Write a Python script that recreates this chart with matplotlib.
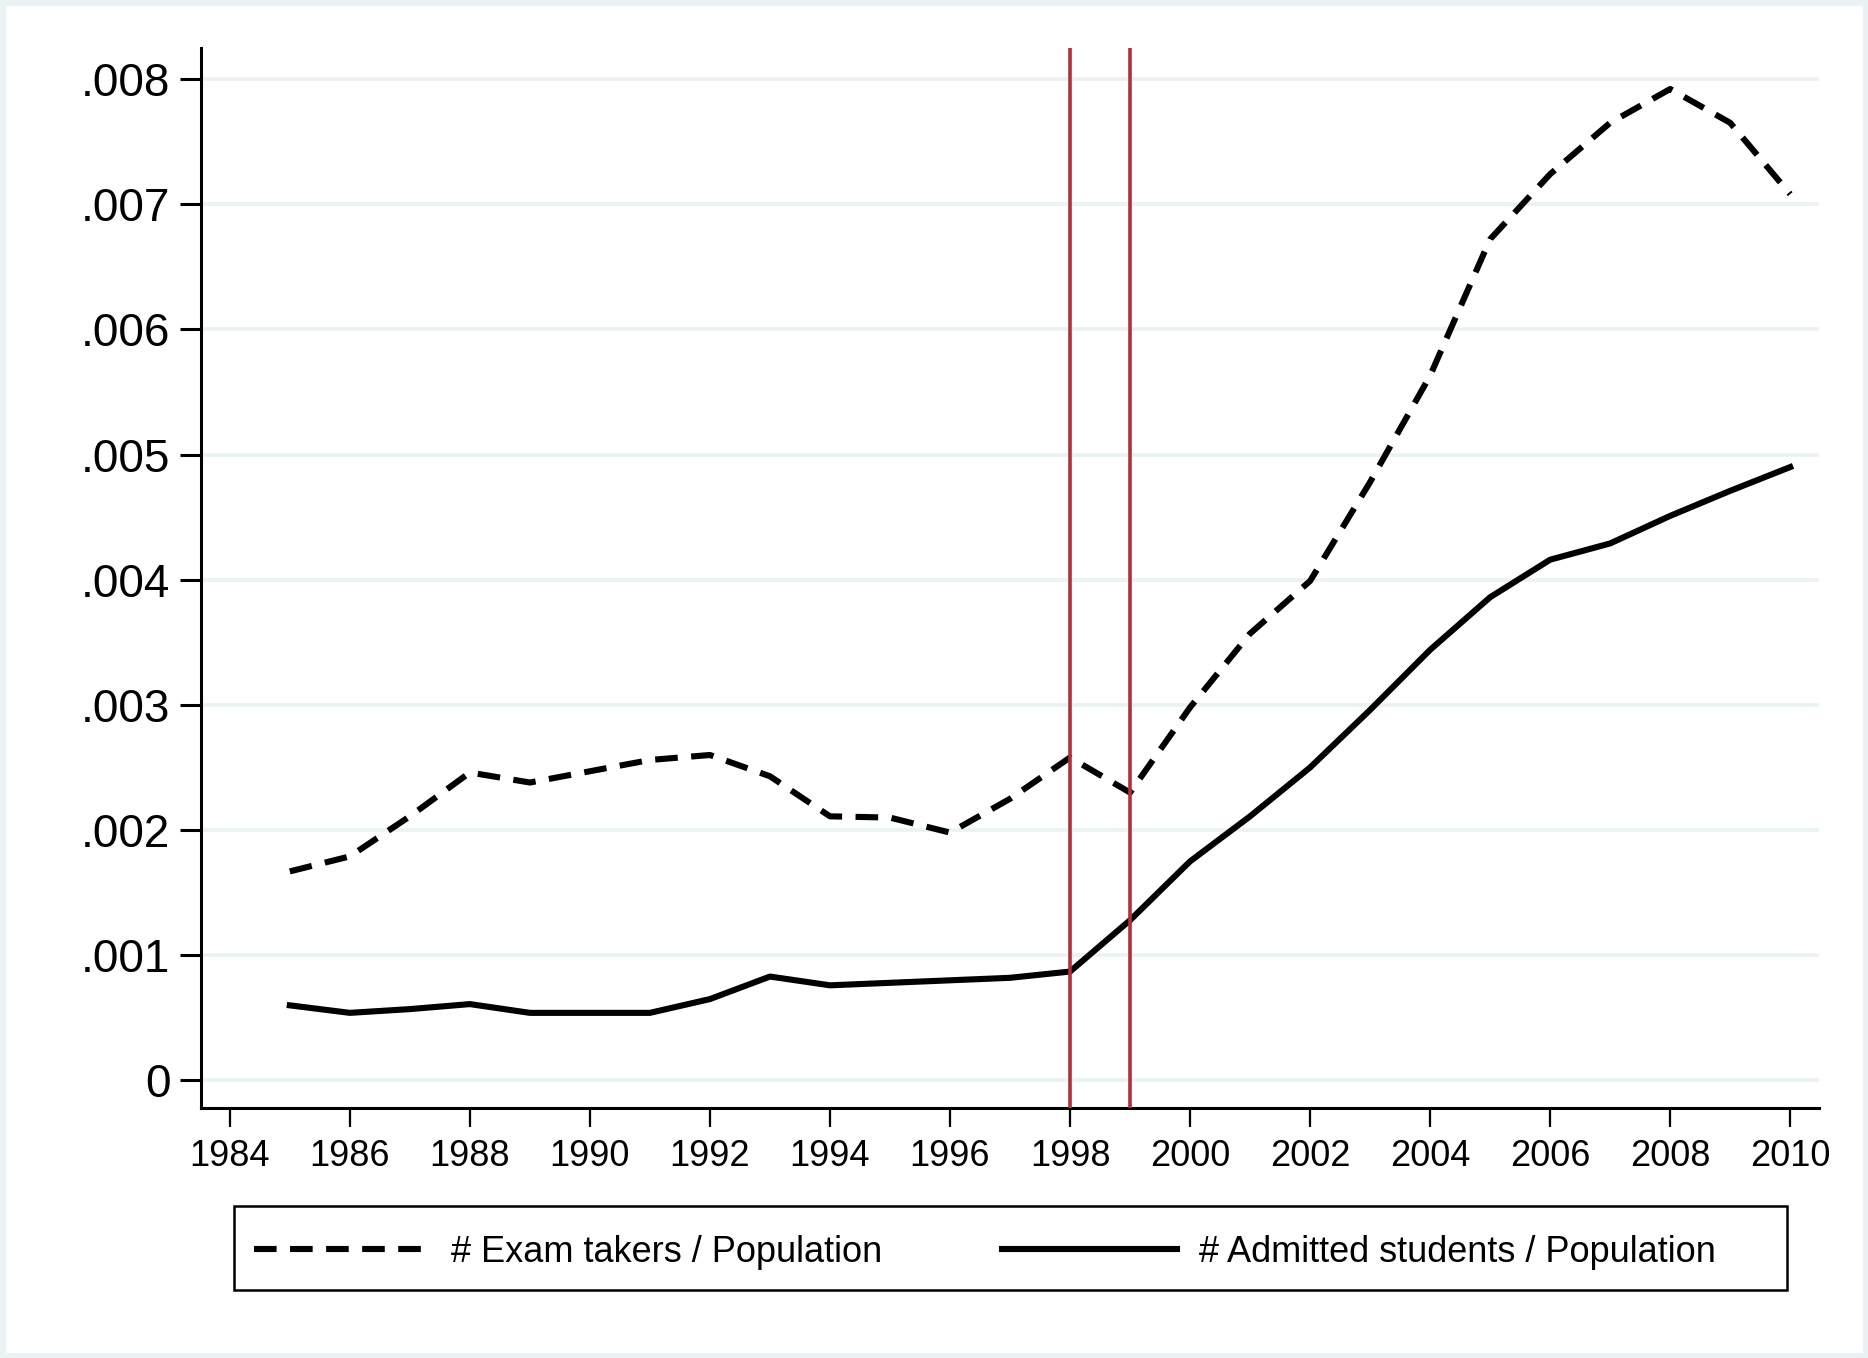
import numpy as np
import matplotlib as mpl
mpl.use('Agg')
import matplotlib.pyplot as plt
from matplotlib.patches import Rectangle

plt.rcParams['font.family'] = ['Liberation Sans', 'DejaVu Sans']

years = list(range(1985, 2011))
exam_takers = [0.00167, 0.00179, 0.00211, 0.00246, 0.00238, 0.00247, 0.00256, 0.00260,
               0.00243, 0.00211, 0.00210, 0.00198, 0.00225, 0.00258, 0.00230, 0.00298,
               0.00357, 0.00399, 0.00478, 0.00563, 0.00672, 0.00724, 0.00765, 0.00792,
               0.00765, 0.00708]
admitted = [0.00060, 0.00054, 0.00057, 0.00061, 0.00054, 0.00054, 0.00054, 0.00065,
            0.00083, 0.00076, 0.00078, 0.00080, 0.00082, 0.00087, 0.00128, 0.00175,
            0.00211, 0.00250, 0.00296, 0.00344, 0.00386, 0.00416, 0.00429, 0.00451,
            0.00471, 0.00490]
reform_years = [1998, 1999]
xticks = list(range(1984, 2011, 2))
yticks = [0, 0.001, 0.002, 0.003, 0.004, 0.005, 0.006, 0.007, 0.008]
ytick_labels = ['0', '.001', '.002', '.003', '.004', '.005', '.006', '.007', '.008']
labels = ['# Exam takers / Population', '# Admitted students / Population']

W, H = 1868, 1358
fig = plt.figure(figsize=(W / 100, H / 100), dpi=100)
fig.patch.set_facecolor('white')
# light outer frame, Stata style
fig.patches.append(Rectangle((0, 0), 1, 1, transform=fig.transFigure,
                             fill=False, edgecolor='#EAF2F3', linewidth=8, zorder=-1))

ax = fig.add_axes([201 / W, 1 - 1108 / H, (1819 - 201) / W, (1108 - 47.7) / H])
ax.plot(years, exam_takers, color='black', lw=4.4, dashes=(3.7, 2.2), label=labels[0])
ax.plot(years, admitted, color='black', lw=4.4, label=labels[1])
for yr in reform_years:
    ax.axvline(yr, color='#B0303B', lw=2.6, zorder=3)

ax.set_xlim(1983.52, 2010.48)
ax.set_ylim(-0.00022, 0.00825)
ax.set_xticks(xticks)
ax.set_yticks(yticks)
ax.set_yticklabels(ytick_labels)
ax.tick_params(axis='y', labelsize=33, length=15, width=2.2, pad=7, colors='black')
ax.tick_params(axis='x', labelsize=26, length=14, width=1.6, pad=8, colors='black')
ax.yaxis.grid(True, color='#EAF2F3', lw=2.6)
ax.set_axisbelow(True)
for s in ['top', 'right']:
    ax.spines[s].set_visible(False)
ax.spines['left'].set_linewidth(2.2)
ax.spines['bottom'].set_linewidth(2.2)

# legend box drawn separately so the columns sit like the original
fig.patches.append(Rectangle((233.5 / W, 1 - 1290 / H), (1787 - 233.5) / W, (1290 - 1205.6) / H,
                             transform=fig.transFigure, fill=False, edgecolor='black',
                             linewidth=1.8))
leg = ax.legend(loc='center left', ncol=2, bbox_to_anchor=(254 / W, 1 - 1252 / H),
                bbox_transform=fig.transFigure, fontsize=26, frameon=False,
                handlelength=4.85, handletextpad=0.6, borderaxespad=0, borderpad=0,
                columnspacing=3.33)

fig.savefig('out.png', dpi=100)
